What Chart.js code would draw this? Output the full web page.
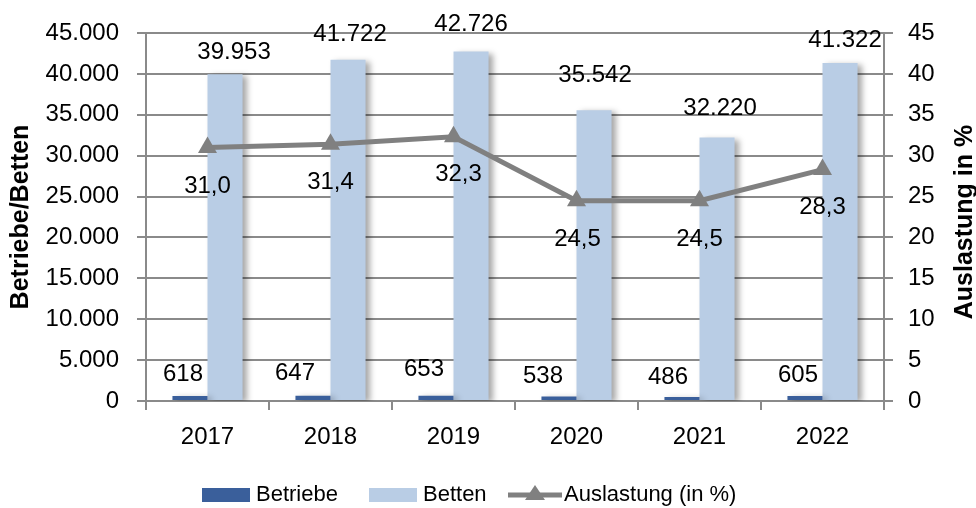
<!DOCTYPE html>
<html><head><meta charset="utf-8">
<script src="https://cdn.jsdelivr.net/npm/chart.js@4.4.1/dist/chart.umd.min.js"></script>
<style>html,body{margin:0;padding:0;background:#fff}#wrap{width:976px;height:508px}</style>
</head><body><div id="wrap"><canvas id="c" width="976" height="508"></canvas></div>
<script>
const categories = ['2017', '2018', '2019', '2020', '2021', '2022'];
const betriebe = [618, 647, 653, 538, 486, 605];
const betten = [39953, 41722, 42726, 35542, 32220, 41322];
const auslastung = [31.0, 31.4, 32.3, 24.5, 24.5, 28.3];
const leftTickLabels = ['0', '5.000', '10.000', '15.000', '20.000', '25.000', '30.000', '35.000', '40.000', '45.000'];
const rightTickLabels = ['0', '5', '10', '15', '20', '25', '30', '35', '40', '45'];
const seriesNames = ['Betriebe', 'Betten', 'Auslastung (in %)'];
const axisTitles = ['Betriebe/Betten', 'Auslastung in %'];

const FONT = "'Liberation Sans', Arial, sans-serif";
const GRID = '#8a8a8a';
const C_BETRIEBE = '#3A5F9B';
const C_BETTEN = '#B9CDE5';
const C_LINE = '#808080';

const fmtThousands = v => String(Math.round(v)).replace(/\B(?=(\d{3})+(?!\d))/g, '.');
const fmtDec = v => v.toFixed(1).replace('.', ',');

const barShadow = {
  id: 'barShadow',
  beforeDatasetDraw(chart, args) {
    if (chart.data.datasets[args.index].type === 'bar') {
      const c = chart.ctx; c.save();
      c.shadowColor = 'rgba(0,0,0,0.35)'; c.shadowBlur = 6; c.shadowOffsetX = 4; c.shadowOffsetY = 2;
    }
  },
  afterDatasetDraw(chart, args) {
    if (chart.data.datasets[args.index].type === 'bar') chart.ctx.restore();
  }
};

// label placement relative to each element
const labelCfg = [
  { fmt: fmtThousands, dx: [-7, -18, -12, -16, -14, -7], dy: [-22, -22, -26, -20, -20, -21] },
  { fmt: fmtThousands, dx: [9, 2, 0, 1, 3, 5], dy: [-22, -25, -27, -35, -29, -23] },
  { fmt: fmtDec, dx: [0, 0, 5, 1, 0, 0], dy: [39, 38, 38, 39, 39, 38] }
];

const valueLabels = {
  id: 'valueLabels',
  afterDatasetsDraw(chart) {
    const ctx = chart.ctx; ctx.save();
    ctx.font = '24px ' + FONT; ctx.fillStyle = '#000'; ctx.textAlign = 'center'; ctx.textBaseline = 'middle';
    chart.data.datasets.forEach((ds, i) => {
      const meta = chart.getDatasetMeta(i); const cfg = labelCfg[i];
      meta.data.forEach((el, j) => {
        ctx.fillText(cfg.fmt(ds.data[j]), el.x + cfg.dx[j], el.y + cfg.dy[j]);
      });
    });
    ctx.restore();
  }
};

const extras = {
  id: 'extras',
  afterDraw(chart) {
    const ctx = chart.ctx; ctx.save();
    // right axis title (reads bottom to top)
    ctx.font = 'bold 25px ' + FONT; ctx.fillStyle = '#000'; ctx.textAlign = 'center'; ctx.textBaseline = 'middle';
    ctx.translate(965, 222); ctx.rotate(-Math.PI / 2); ctx.fillText(axisTitles[1], 0, 0);
    ctx.restore();
    // legend
    ctx.save();
    ctx.font = '22px ' + FONT; ctx.fillStyle = '#000'; ctx.textBaseline = 'middle'; ctx.textAlign = 'left';
    const cy = 495;
    ctx.fillStyle = C_BETRIEBE; ctx.fillRect(202, cy - 7, 48, 14);
    ctx.fillStyle = '#000'; ctx.fillText(seriesNames[0], 256, cy);
    ctx.fillStyle = C_BETTEN; ctx.fillRect(369, cy - 7, 48, 14);
    ctx.fillStyle = '#000'; ctx.fillText(seriesNames[1], 423, cy);
    ctx.strokeStyle = C_LINE; ctx.lineWidth = 5; ctx.beginPath(); ctx.moveTo(508, cy); ctx.lineTo(562, cy); ctx.stroke();
    ctx.fillStyle = C_LINE; ctx.beginPath();
    ctx.moveTo(535, cy - 10); ctx.lineTo(545, cy + 5); ctx.lineTo(525, cy + 5); ctx.closePath(); ctx.fill();
    ctx.fillStyle = '#000'; ctx.fillText(seriesNames[2], 564, cy);
    ctx.restore();
  }
};

Chart.defaults.font.family = FONT;
Chart.defaults.color = '#000';

new Chart(document.getElementById('c'), {
  type: 'bar',
  data: {
    labels: categories,
    datasets: [
      { type: 'bar', label: seriesNames[0], data: betriebe, backgroundColor: C_BETRIEBE, yAxisID: 'y', order: 1,
        categoryPercentage: 0.57, barPercentage: 1.0 },
      { type: 'bar', label: seriesNames[1], data: betten, backgroundColor: C_BETTEN, yAxisID: 'y', order: 1,
        categoryPercentage: 0.57, barPercentage: 1.0 },
      { type: 'line', label: seriesNames[2], data: auslastung, yAxisID: 'y1', order: 0,
        borderColor: C_LINE, borderWidth: 5, backgroundColor: C_LINE,
        pointStyle: 'triangle', pointRadius: 11, pointHoverRadius: 11,
        pointBackgroundColor: C_LINE, pointBorderColor: C_LINE, pointBorderWidth: 0, tension: 0 }
    ]
  },
  options: {
    responsive: false, animation: false, devicePixelRatio: 1,
    layout: { padding: { top: 33, left: 0, right: 0, bottom: 0 } },
    plugins: { legend: { display: false }, tooltip: { enabled: false } },
    scales: {
      x: {
        offset: true,
        grid: { offset: true, drawOnChartArea: false, drawTicks: true, tickLength: 9, color: GRID, lineWidth: 2 },
        border: { display: false },
        ticks: { font: { size: 24 }, padding: 13, color: '#000' },
        afterFit(s) { s.height = 107; }
      },
      y: {
        position: 'left', min: 0, max: 45000,
        grid: { color: GRID, lineWidth: 2, tickLength: 9, drawTicks: true },
        border: { display: true, color: GRID, width: 2 },
        ticks: { stepSize: 5000, font: { size: 24 }, padding: 18, color: '#000',
          callback: (v, i) => leftTickLabels[i] },
        title: { display: true, text: axisTitles[0], font: { size: 25, weight: 'bold' }, padding: { top: 6 }, color: '#000' },
        afterFit(s) { s.width = 146; }
      },
      y1: {
        position: 'right', min: 0, max: 45,
        grid: { drawOnChartArea: false, color: GRID, lineWidth: 2, tickLength: 9, drawTicks: true },
        border: { display: true, color: GRID, width: 2 },
        ticks: { stepSize: 5, font: { size: 24 }, padding: 15, color: '#000',
          callback: (v, i) => rightTickLabels[i] },
        afterFit(s) { s.width = 92; }
      }
    }
  },
  plugins: [barShadow, valueLabels, extras]
});
</script>
</body></html>
